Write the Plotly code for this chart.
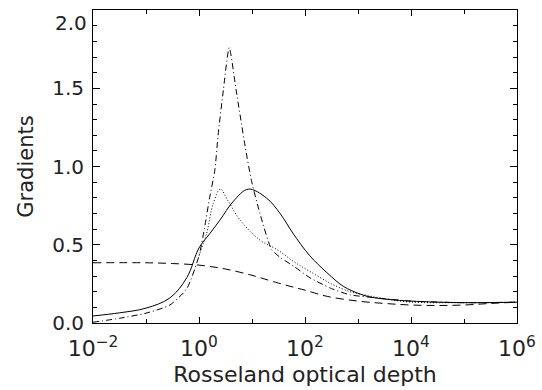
import numpy as np
import plotly.graph_objects as go

# log10 of Rosseland optical depth and gradient values
solid_logtau = [-2, -1.5, -1, -0.55, -0.23, 0, 0.2, 0.4, 0.64, 0.93, 1.27, 1.53, 1.77,
                2.09, 2.42, 2.72, 3.04, 3.23, 3.6, 4, 5, 6]
solid_val = [0.045, 0.065, 0.095, 0.16, 0.29, 0.48, 0.57, 0.66, 0.775, 0.856, 0.80, 0.70,
             0.575, 0.43, 0.32, 0.235, 0.185, 0.166, 0.15, 0.14, 0.13, 0.133]

dashed_logtau = [-2, -1, -0.5, 0, 0.5, 1, 1.15, 1.5, 1.77, 2, 2.42, 3, 3.5, 4, 4.5, 5, 5.5, 6]
dashed_val = [0.385, 0.385, 0.38, 0.37, 0.345, 0.305, 0.29, 0.255, 0.23, 0.21, 0.17, 0.14,
              0.125, 0.115, 0.112, 0.115, 0.125, 0.133]

dashdot_logtau = [-2, -1.5, -1, -0.55, -0.23, 0, 0.1, 0.2, 0.3, 0.36, 0.46, 0.57, 0.70,
                  0.87, 0.99, 1.15, 1.37, 1.53, 1.8, 2.09, 2.5, 2.85, 3.22, 4, 5, 6]
dashdot_val = [0.005, 0.03, 0.063, 0.115, 0.22, 0.43, 0.60, 0.80, 0.98, 1.20, 1.49, 1.76,
               1.49, 1.13, 0.91, 0.70, 0.47, 0.42, 0.36, 0.29, 0.22, 0.18, 0.165, 0.14,
               0.13, 0.133]

dotted_logtau = [0, 0.145, 0.27, 0.40, 0.55, 0.77, 1.15, 1.47, 1.8, 2.09, 2.5, 2.85, 3.04,
                 3.5, 3.98, 5, 6]
dotted_val = [0.43, 0.575, 0.765, 0.856, 0.78, 0.66, 0.53, 0.47, 0.39, 0.33, 0.25, 0.2,
              0.185, 0.155, 0.134, 0.13, 0.133]

xtick_vals = [1e-2, 1e0, 1e2, 1e4, 1e6]
xtick_text = ["10<sup>−2</sup>", "10<sup>0</sup>", "10<sup>2</sup>", "10<sup>4</sup>", "10<sup>6</sup>"]
xminor_vals = [1e-1, 1e1, 1e3, 1e5]
ytick_vals = [0, 0.5, 1.0, 1.5, 2.0]
ytick_text = ["0.0", "0.5", "1.0", "1.5", ""]
ytop_label = "2.0"

FONT = "DejaVu Sans"
TXT = "#222222"

fig = go.Figure()

def add(logtau, val, dash, smooth=1.0):
    fig.add_trace(go.Scatter(
        x=np.power(10.0, logtau), y=val, mode="lines",
        line=dict(color="black", width=1, dash=dash, shape="spline", smoothing=smooth),
        showlegend=False, hoverinfo="skip"))

add(solid_logtau, solid_val, "solid")
add(dashed_logtau, dashed_val, "8px,5px")
add(dotted_logtau, dotted_val, "1px,2px")
add(dashdot_logtau, dashdot_val, "6px,3px,1px,3px", 0.6)

fig.update_layout(
    width=542, height=390,
    margin=dict(l=93, r=25, t=10, b=67, autoexpand=False),
    paper_bgcolor="white", plot_bgcolor="white",
    font=dict(family=FONT, color=TXT),
)
# top y label sits just below the frame, as in the reference
fig.add_annotation(
    text=ytop_label, xref="paper", yref="y", x=0, y=ytick_vals[-1],
    xanchor="right", yanchor="top", xshift=-4, yshift=1, showarrow=False,
    font=dict(size=20, family=FONT, color=TXT),
)
fig.update_xaxes(
    type="log", range=[-2, 6],
    tickvals=xtick_vals, ticktext=xtick_text,
    ticks="inside", ticklen=6, tickwidth=1, tickcolor="black",
    minor=dict(tickvals=xminor_vals, ticks="inside", ticklen=4, tickcolor="black"),
    showline=True, linecolor="black", linewidth=1, mirror="allticks",
    showgrid=False, zeroline=False,
    tickfont=dict(size=22, family=FONT, color=TXT),
    ticklabelstandoff=6, ticklabeloverflow="allow",
    title=dict(text="Rosseland optical depth", font=dict(size=22, family=FONT, color=TXT),
               standoff=6),
)
fig.update_yaxes(
    range=[0, 2.001],
    tickvals=ytick_vals, ticktext=ytick_text,
    ticks="inside", ticklen=7, tickwidth=1, tickcolor="black",
    minor=dict(dtick=0.1, ticks="inside", ticklen=4, tickcolor="black"),
    showline=True, linecolor="black", linewidth=1, mirror="allticks",
    showgrid=False, zeroline=False,
    tickfont=dict(size=20, family=FONT, color=TXT),
    ticklabelstandoff=4, ticklabeloverflow="allow",
    title=dict(text="Gradients", font=dict(size=21, family=FONT, color=TXT), standoff=12),
)

fig.write_html("out.html")
